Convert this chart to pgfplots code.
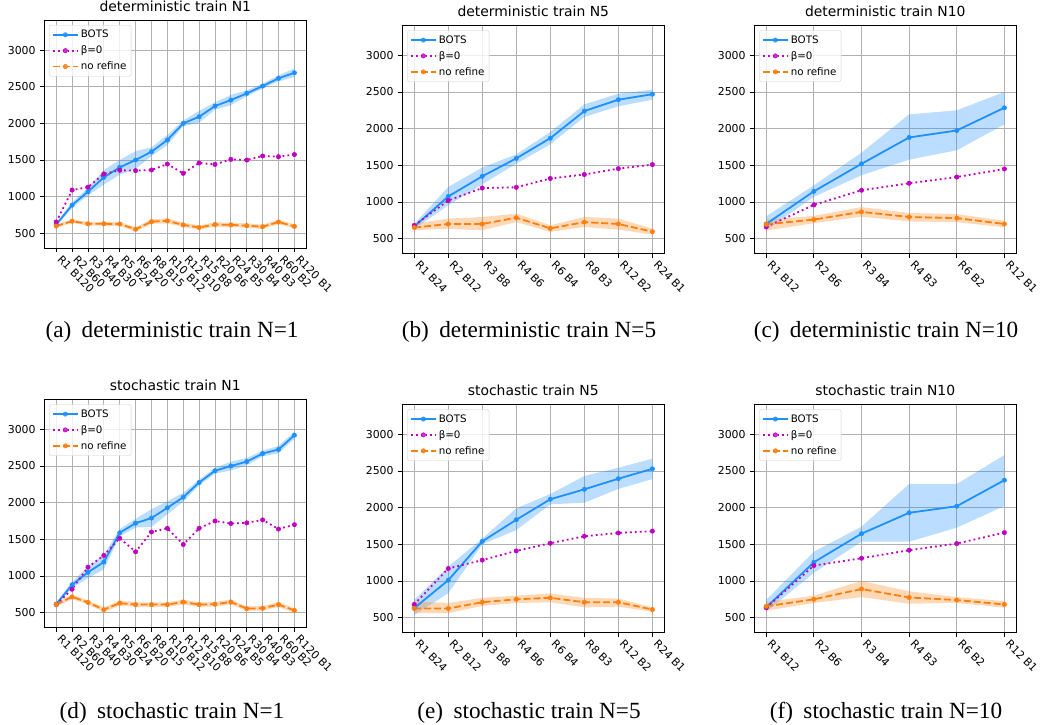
\documentclass[border=0pt]{standalone}
\usepackage{fontspec}
\setmainfont{DejaVu Sans}
\newfontfamily\capfont{Liberation Serif}
\usepackage{pgfplots}
\pgfplotsset{compat=1.18}
\usepackage{pgfplotstable}
\usepgfplotslibrary{fillbetween}
\definecolor{bots}{RGB}{30,144,255}
\definecolor{beta}{RGB}{191,0,191}
\definecolor{nref}{RGB}{255,127,14}
\definecolor{gridc}{RGB}{176,176,176}
\definecolor{legc}{RGB}{204,204,204}

\pgfplotstableread{
x bm blo bhi zm nm nlo nhi
0 620 595 645 655 600 575 625
1 885 845 925 1090 665 640 690
2 1068 1018 1118 1130 630 605 655
3 1264 1164 1364 1310 630 605 655
4 1400 1300 1500 1360 627 600 655
5 1500 1380 1620 1355 555 525 585
6 1614 1554 1674 1364 659 630 690
7 1773 1703 1843 1445 670 635 705
8 2000 1960 2040 1318 615 585 645
9 2090 2010 2170 1460 580 550 610
10 2236 2186 2286 1440 620 590 650
11 2318 2248 2388 1509 615 585 645
12 2409 2369 2449 1500 605 575 635
13 2509 2474 2544 1555 590 560 620
14 2614 2574 2654 1545 655 625 685
15 2690 2630 2750 1575 595 565 625
}\ta
\pgfplotstableread{
x bm blo bhi zm nm nlo nhi
0 665 630 700 680 650 614 705
1 1075 955 1205 1020 700 636 773
2 1350 1240 1470 1190 700 614 795
3 1595 1523 1650 1200 785 727 841
4 1870 1786 1955 1320 640 591 682
5 2240 2159 2332 1375 725 659 795
6 2395 2305 2477 1455 700 623 773
7 2470 2395 2532 1510 595 555 636
}\tb
\pgfplotstableread{
x bm blo bhi zm nm nlo nhi
0 700 614 805 660 695 610 760
1 1145 1070 1227 960 760 710 810
2 1520 1364 1673 1160 865 800 930
3 1880 1577 2195 1255 795 735 850
4 1975 1705 2250 1340 780 725 835
5 2285 2059 2500 1450 700 655 745
}\tc
\pgfplotstableread{
x bm blo bhi zm nm nlo nhi
0 615 590 640 610 610 580 640
1 880 840 920 820 715 685 745
2 1050 970 1130 1120 640 610 670
3 1190 1090 1290 1280 540 510 570
4 1590 1540 1640 1515 630 595 665
5 1720 1660 1780 1330 610 580 640
6 1790 1670 1910 1600 610 580 640
7 1930 1840 2020 1650 610 580 640
8 2075 2015 2135 1430 645 610 680
9 2275 2235 2315 1650 610 580 640
10 2435 2395 2475 1750 615 585 645
11 2500 2440 2560 1715 645 610 680
12 2560 2510 2610 1725 555 525 585
13 2670 2630 2710 1765 560 530 590
14 2725 2675 2775 1640 610 575 645
15 2920 2870 2970 1700 530 500 560
}\td
\pgfplotstableread{
x bm blo bhi zm nm nlo nhi
0 630 536 741 680 625 560 720
1 1010 832 1195 1170 625 560 700
2 1540 1500 1580 1285 710 660 770
3 1835 1695 1991 1410 750 700 800
4 2115 2045 2186 1515 770 710 830
5 2250 2068 2432 1610 710 640 770
6 2395 2255 2545 1655 710 650 760
7 2530 2391 2668 1680 610 580 640
}\te
\pgfplotstableread{
x bm blo bhi zm nm nlo nhi
0 640 582 741 635 655 595 715
1 1255 1110 1400 1210 750 700 800
2 1645 1536 1741 1310 890 780 1000
3 1930 1536 2323 1420 775 690 860
4 2020 1727 2323 1510 740 700 780
5 2375 2023 2718 1660 680 635 725
}\tf

\pgfplotsset{
 panel/.style={
  scale only axis, width=262bp, height=228bp,
  ymin=300, ymax=3410, ytick={500,1000,1500,2000,2500,3000},
  grid=major, grid style={color=gridc, line width=0.8bp},
  axis line style={line width=0.8bp},
  tick align=outside, tick pos=left, major tick length=4.5bp,
  tick style={black, line width=0.8bp},
  /pgf/number format/assume math mode=true,
  /pgf/number format/1000 sep={},
  tick label style={font=\fontsize{10.9bp}{12bp}\selectfont},
  yticklabel style={inner sep=1bp, xshift=-3bp},
  xticklabel style={rotate=-45, anchor=north west, inner sep=1.5bp, xshift=4.5bp, yshift=4.5bp},
  title style={font=\fontsize{13.9bp}{16bp}\selectfont, yshift=-1bp},
  legend style={at={(0.019,0.978)}, anchor=north west, draw=legc, rounded corners=2bp,
    font=\fontsize{10.3bp}{12bp}\selectfont, fill=white, fill opacity=0.8, text opacity=1,
    draw opacity=1, inner xsep=2.5bp, inner ysep=3bp, row sep=2.6bp},
  legend cell align=left,
  legend image code/.code={\draw[mark repeat=2,mark phase=2,##1] plot coordinates {(0bp,0bp) (12.5bp,0bp) (25bp,0bp)};},
 },
 botsl/.style={bots, line width=1.8bp, mark=*, mark size=2.2bp, mark options={line width=0.5bp}},
 betal/.style={beta, line width=1.8bp, dash pattern=on 1.8bp off 3.1bp, mark=*, mark size=2.2bp, mark options={solid, line width=0.5bp}},
 nrefl/.style={nref, line width=1.8bp, dash pattern=on 7bp off 3bp, mark=*, mark size=2.2bp, mark options={solid, line width=0.5bp}},
 xa/.style={xmin=-0.75, xmax=15.75, xtick={0,...,15},
   xticklabels={R1 B120,R2 B60,R3 B40,R4 B30,R5 B24,R6 B20,R8 B15,R10 B12,R12 B10,R15 B8,R20 B6,R24 B5,R30 B4,R40 B3,R60 B2,R120 B1}},
 xb/.style={xmin=-0.35, xmax=7.35, xtick={0,...,7},
   xticklabels={R1 B24,R2 B12,R3 B8,R4 B6,R6 B4,R8 B3,R12 B2,R24 B1}},
 xc/.style={xmin=-0.25, xmax=5.25, xtick={0,...,5},
   xticklabels={R1 B12,R2 B6,R3 B4,R4 B3,R6 B2,R12 B1}},
}

\newcommand{\series}[1]{%
 \addplot[name path=bu, draw=none, forget plot] table[x=x,y=bhi]{#1};
 \addplot[name path=bl, draw=none, forget plot] table[x=x,y=blo]{#1};
 \addplot[fill=bots, fill opacity=0.3, draw=none, forget plot] fill between[of=bu and bl];
 \addplot[name path=nu, draw=none, forget plot] table[x=x,y=nhi]{#1};
 \addplot[name path=nl, draw=none, forget plot] table[x=x,y=nlo]{#1};
 \addplot[fill=nref, fill opacity=0.3, draw=none, forget plot] fill between[of=nu and nl];
 \addplot[botsl] table[x=x,y=bm]{#1};
 \addplot[betal] table[x=x,y=zm]{#1};
 \addplot[nrefl] table[x=x,y=nm]{#1};
 \legend{BOTS,β=0,no refine}
}

\begin{document}
\begin{tikzpicture}
\path (0,0) rectangle (1042bp,725bp);
\begin{axis}[panel, xa, at={(44.3bp,477bp)}, anchor=south west, title={deterministic train N1}]
\series{\ta}
\end{axis}
\begin{axis}[panel, xb, at={(402.3bp,471.7bp)}, anchor=south west, title={deterministic train N5}]
\series{\tb}
\end{axis}
\begin{axis}[panel, xc, at={(754.3bp,471.7bp)}, anchor=south west, title={deterministic train N10}]
\series{\tc}
\end{axis}
\begin{axis}[panel, xa, at={(44.3bp,97.7bp)}, anchor=south west, title={stochastic train N1}]
\series{\td}
\end{axis}
\begin{axis}[panel, xb, at={(402.3bp,92.7bp)}, anchor=south west, title={stochastic train N5}]
\series{\te}
\end{axis}
\begin{axis}[panel, xc, at={(754.3bp,92.7bp)}, anchor=south west, title={stochastic train N10}]
\series{\tf}
\end{axis}
\begin{scope}[every node/.style={anchor=base, inner sep=0pt, font=\capfont\fontsize{23.2bp}{26bp}\selectfont}]
\node at (172bp,387bp) {(a)\hspace{0.45em}deterministic train N=1};
\node at (529bp,387bp) {(b)\hspace{0.45em}deterministic train N=5};
\node at (886bp,387bp) {(c)\hspace{0.45em}deterministic train N=10};
\node at (172bp,7bp) {(d)\hspace{0.45em}stochastic train N=1};
\node at (529bp,7bp) {(e)\hspace{0.45em}stochastic train N=5};
\node at (886bp,7bp) {(f)\hspace{0.45em}stochastic train N=10};
\end{scope}
\pgfresetboundingbox
\path[use as bounding box] (0,0) rectangle (1042bp,725bp);
\end{tikzpicture}
\end{document}
